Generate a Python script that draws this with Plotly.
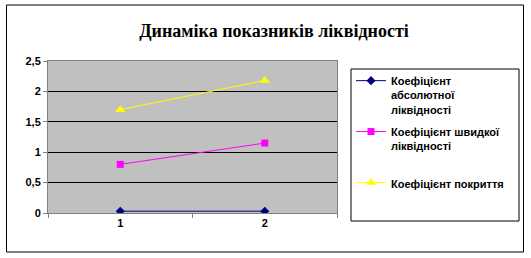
import plotly.graph_objects as go

categories = ["1", "2"]
abs_liq = [0.03, 0.03]
quick_liq = [0.80, 1.15]
coverage = [1.70, 2.18]
names = [
    "Коефіцієнт<br>абсолютної<br>ліквідності",
    "Коефіцієнт швидкої<br>ліквідності<br> ",
    "Коефіцієнт покриття",
]
y_ticks = [0, 0.5, 1, 1.5, 2, 2.5]

W, H = 531, 258
L, R, T, B = 48, 337, 61, 213
def px(x):
    return (x - L) / (R - L)
def py(y):
    return (B - y) / (B - T)

fig = go.Figure()
fig.add_trace(go.Scatter(x=categories, y=abs_liq, name=names[0], mode="lines+markers",
                         legendgroup="a",
                         line=dict(color="#000080", width=1),
                         marker=dict(symbol="diamond", size=7, color="#000080")))
fig.add_trace(go.Scatter(x=categories, y=quick_liq, name=names[1], mode="lines+markers",
                         legendgroup="b",
                         line=dict(color="#FF00FF", width=1),
                         marker=dict(symbol="square", size=7, color="#FF00FF")))
fig.add_trace(go.Scatter(x=categories, y=coverage, name=names[2], mode="lines+markers",
                         legendgroup="c",
                         line=dict(color="#FFFF00", width=1),
                         marker=dict(symbol="triangle-up", size=9, color="#FFFF00")))

for tr in fig.data:
    tr.name = "<b>" + tr.name + "</b>"

fig.update_layout(
    width=W, height=H,
    margin=dict(l=L, r=W - R, t=T, b=H - B, pad=0),
    paper_bgcolor="white",
    plot_bgcolor="#C0C0C0",
    separators=", ",
    hovermode=False,
    title=dict(text="<b>Динаміка показників ліквідності</b>",
               font=dict(family="Liberation Serif, Times New Roman, DejaVu Serif, serif",
                         size=18, color="black"),
               x=274 / W, xanchor="center", y=1 - 31 / H, yanchor="middle"),
    font=dict(family="Liberation Sans", size=11, color="black"),
    legend=dict(x=px(351), y=py(67), xanchor="left", yanchor="top",
                bgcolor="rgba(0,0,0,0)", borderwidth=0, valign="top",
                tracegroupgap=5,
                font=dict(family="Liberation Sans", size=11, color="black"),
                itemwidth=30),
    showlegend=True,
)
fig.update_xaxes(type="category", range=[-0.5, 1.5], showgrid=False,
                 showline=True, linecolor="#808080", linewidth=1, mirror=True,
                 ticks="outside", tickson="boundaries", ticklen=4, tickcolor="#808080",
                 tickfont=dict(family="Liberation Sans", size=11, color="black", weight="bold"))
fig.update_yaxes(range=[0, 2.5], tickvals=y_ticks, showgrid=True, gridcolor="black",
                 gridwidth=1, zeroline=True, zerolinecolor="black", zerolinewidth=1,
                 showline=True, linecolor="#808080", linewidth=1, mirror=True,
                 ticks="outside", ticklen=4, tickcolor="#808080",
                 tickfont=dict(family="Liberation Sans", size=11, color="black", weight="bold"))

# legend border and outer chart border
fig.add_shape(type="rect", xref="paper", yref="paper",
              x0=px(351), x1=px(519), y0=py(221), y1=py(69),
              line=dict(color="black", width=1), fillcolor="rgba(0,0,0,0)", layer="above")
fig.add_shape(type="rect", xref="paper", yref="paper",
              x0=px(6.5), x1=px(523.5), y0=py(252), y1=py(5),
              line=dict(color="black", width=1), fillcolor="rgba(0,0,0,0)", layer="above")

fig.write_html("out.html")
